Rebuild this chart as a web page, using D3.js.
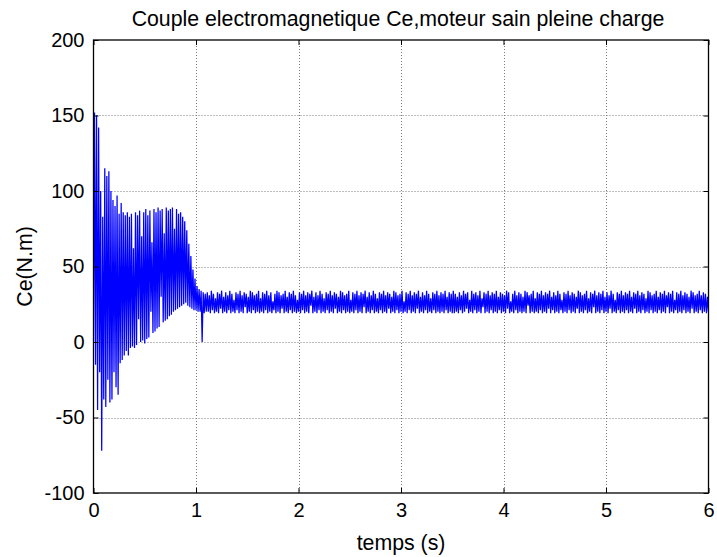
<!DOCTYPE html>
<html>
<head>
<meta charset="utf-8">
<script src="https://cdn.jsdelivr.net/npm/d3@7"></script>
<style>
  html, body { margin: 0; padding: 0; background: #fff; }
  text { font-family: "Liberation Sans", Arial, sans-serif; }
</style>
</head>
<body>
<svg id="chart" width="717" height="557"></svg>
<script>
// ---- data ----
const titleText = "Couple electromagnetique Ce,moteur sain pleine charge";
const xLabel = "temps (s)";
const yLabel = "Ce(N.m)";
const xTicks = [0, 1, 2, 3, 4, 5, 6];
const yTicks = [-100, -50, 0, 50, 100, 150, 200];
const timeStep = 0.01; // seconds between samples

// transient (0 .. 1.10 s)
const ceTransient = [
  0, 152, -15, 150, -45, 142, -20, 100, -72, 83,
  -38, 115, -43, 110, -25, 113, -40, 100, -38, 94,
  -20, 90, -30, 97, -35, 85, -14, 92, -12, 86,
  -9, 84, -6, 86, -9, 83, -4, 85, -3, 62,
  -4, 86, -2, 84, 15, 87, 0, 70, 1, 86,
  -1, 88, 2, 84, 3, 87, 20, 66, 6, 88,
  7, 86, 9, 89, 10, 87, 30, 88, 13, 72,
  14, 89, 15, 87, 17, 88, 18, 89, 20, 75,
  21, 88, 22, 85, 23, 86, 24, 83, 25, 80,
  26, 74, 24, 65, 23, 57, 22, 48, 21, 42,
  21, 37, 20, 35, 20, 34, 0, 33, 19, 32,
  20
];

// steady state (1.11 .. 6.00 s)
const ceSteady = [
  33,20, 31,19, 34,21, 32,19, 29,20, 33,19, 32,22, 34,19, 30,20, 33,19,
  31,21, 34,19, 32,20, 28,19, 33,21, 32,19, 34,20, 31,19, 33,23, 32,19,
  30,20, 34,19, 33,21, 31,19, 32,20, 34,19, 29,20, 33,19, 32,21, 34,19,
  31,20, 33,19, 27,21, 32,19, 34,20, 33,19, 31,22, 32,19, 34,20, 30,19,
  33,21, 32,19, 34,20, 31,19, 28,20, 33,19, 32,21, 34,19, 31,20, 33,19,
  32,24, 34,19, 30,20, 33,19, 31,21, 34,19, 32,20, 29,19, 33,21, 32,19,
  34,20, 31,19, 33,22, 32,19, 30,20, 34,19, 33,21, 31,19, 32,20, 34,19,
  28,20, 33,19, 32,21, 34,19, 31,20, 33,19, 32,23, 34,19, 30,20, 33,19,
  31,21, 34,19, 32,20, 29,19, 33,21, 32,19, 34,20, 31,19, 33,22, 32,19,
  30,20, 34,19, 33,21, 31,19, 32,20, 34,19, 27,20, 33,19, 32,21, 34,19,
  31,20, 33,19, 32,22, 34,19, 30,20, 33,19, 31,21, 34,19, 32,20, 29,19,
  33,21, 32,19, 34,20, 31,19, 33,20, 32,19, 34,21, 30,19, 33,20, 32,19,
  34,19, 32,20, 30,19, 33,21, 31,19, 34,20, 32,22, 33,19, 28,20, 34,19,
  32,21, 33,19, 31,20, 34,19, 29,23, 33,19, 32,20, 34,19, 31,21, 33,19,
  32,20, 34,19, 30,21, 33,19, 32,20, 31,19, 34,22, 33,19, 27,20, 32,19,
  34,21, 31,19, 33,20, 32,19, 30,20, 34,19, 33,24, 31,19, 32,20, 34,19,
  29,20, 33,19, 32,21, 34,19, 31,20, 33,19, 32,22, 34,19, 30,21, 33,19,
  31,20, 34,19, 32,21, 28,19, 33,20, 32,19, 34,21, 31,19, 33,20, 32,19,
  30,22, 34,19, 33,20, 31,19, 32,21, 34,19, 29,20, 33,19, 32,23, 34,19,
  31,20, 33,19, 32,21, 34,19, 30,20, 33,19, 31,22, 34,19, 32,20, 28,19,
  33,21, 32,19, 34,20, 31,19, 33,21, 32,19, 34,20, 30,19, 33,22, 32,19,
  34,20, 31,19, 33,21, 32,19, 29,20, 34,19, 33,21, 31,19, 32,20, 34,19,
  30,21, 33,19, 32,20, 34,19, 31,23, 33,19, 32,20, 34,19, 28,21, 33,19,
  32,20, 34,19, 31,21, 33,19, 32,20, 30,19, 34,22, 33,19, 31,20, 32,19,
  34,21, 31,19, 33,20, 32,19, 30,20
];

const ceValues = ceTransient.concat(ceSteady);
const series = ceValues.map((v, i) => ({ t: i * timeStep, v: v }));

// ---- layout ----
const svg = d3.select("#chart");
const W = 717, H = 557;
const margin = { left: 93.5, right: W - 708.5, top: 40, bottom: H - 493 };
const x = d3.scaleLinear().domain([0, 6]).range([margin.left, W - margin.right]);
const y = d3.scaleLinear().domain([-100, 200]).range([H - margin.bottom, margin.top]);

const x0 = x.range()[0], x1 = x.range()[1];
const y0 = y.range()[0], y1 = y.range()[1];

svg.append("rect").attr("x", 0).attr("y", 0).attr("width", W).attr("height", H).attr("fill", "#fff");

// grid
const grid = svg.append("g").attr("stroke", "#7a7a7a").attr("stroke-width", 1).attr("stroke-dasharray", "1,2");
xTicks.slice(1, -1).forEach(t => {
  grid.append("line").attr("x1", Math.round(x(t)) + 0.5).attr("x2", Math.round(x(t)) + 0.5)
    .attr("y1", y1).attr("y2", y0);
});
yTicks.slice(1, -1).forEach(t => {
  grid.append("line").attr("y1", Math.round(y(t)) + 0.5).attr("y2", Math.round(y(t)) + 0.5)
    .attr("x1", x0).attr("x2", x1);
});

// data line
svg.append("defs").append("clipPath").attr("id", "clip")
  .append("rect").attr("x", x0).attr("y", y1).attr("width", x1 - x0).attr("height", y0 - y1);

const line = d3.line().x(d => x(d.t)).y(d => y(d.v));
svg.append("path").datum(series)
  .attr("clip-path", "url(#clip)")
  .attr("fill", "none").attr("stroke", "#0000ff").attr("stroke-width", 1.25)
  .attr("d", line);

// axes (MATLAB style: inward ticks on all four sides)
const tickLen = 5;
const tickFont = 20;
const labelFont = 21.3;
const fmt = d => String(d);
const axB = d3.axisBottom(x).tickValues(xTicks).tickSize(-tickLen).tickPadding(10).tickFormat(fmt);
const axT = d3.axisTop(x).tickValues(xTicks).tickSize(-tickLen).tickFormat("");
const axL = d3.axisLeft(y).tickValues(yTicks).tickSize(-tickLen).tickPadding(9).tickFormat(fmt);
const axR = d3.axisRight(y).tickValues(yTicks).tickSize(-tickLen).tickFormat("");

function style(g) {
  g.select(".domain").remove();
  g.selectAll(".tick line").attr("stroke", "#000");
  g.selectAll(".tick text").attr("font-size", tickFont).attr("fill", "#000")
    .attr("font-family", "'Liberation Sans', Arial, sans-serif");
}
svg.append("g").attr("transform", `translate(0,${y0})`).call(axB).call(style);
svg.append("g").attr("transform", `translate(0,${y1})`).call(axT).call(style);
svg.append("g").attr("transform", `translate(${x0},0)`).call(axL).call(style);
svg.append("g").attr("transform", `translate(${x1},0)`).call(axR).call(style);

// box
svg.append("rect").attr("x", x0).attr("y", y1).attr("width", x1 - x0).attr("height", y0 - y1)
  .attr("fill", "none").attr("stroke", "#000").attr("stroke-width", 1.3);

// title and labels
svg.append("text").attr("x", 398).attr("y", 26).attr("text-anchor", "middle")
  .attr("font-size", labelFont).attr("fill", "#000").text(titleText);
svg.append("text").attr("x", (x0 + x1) / 2).attr("y", 550).attr("text-anchor", "middle")
  .attr("font-size", labelFont).attr("fill", "#000").text(xLabel);
svg.append("text").attr("transform", `translate(32,${(y0 + y1) / 2}) rotate(-90)`).attr("text-anchor", "middle")
  .attr("font-size", labelFont).attr("fill", "#000").text(yLabel);
</script>
</body>
</html>
